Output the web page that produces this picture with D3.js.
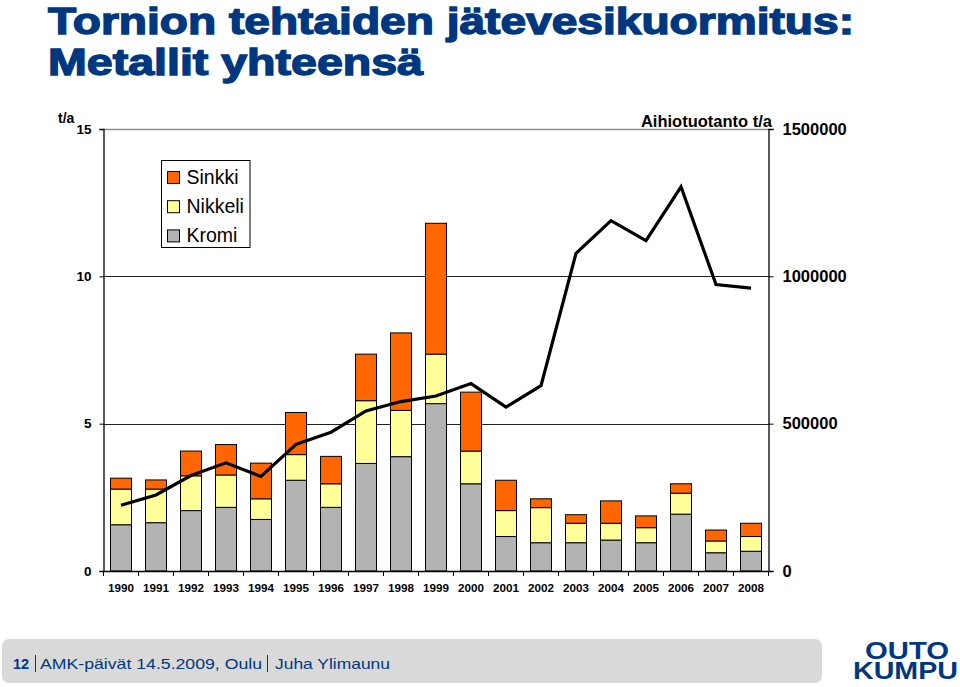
<!DOCTYPE html>
<html>
<head>
<meta charset="utf-8">
<script src="https://cdn.jsdelivr.net/npm/d3@7"></script>
<style>
  html, body { margin: 0; padding: 0; background: #fff; }
  svg { display: block; font-family: "Liberation Sans", Arial, sans-serif; }
</style>
</head>
<body>
<svg id="chart" width="960" height="687"></svg>
<script>
const years = ["1990","1991","1992","1993","1994","1995","1996","1997","1998","1999","2000","2001","2002","2003","2004","2005","2006","2007","2008"];
const kromi   = [1.57,1.64,2.05,2.16,1.75,3.08,2.16,3.65,3.88,5.68,2.96,1.17,0.96,0.96,1.05,0.96,1.93,0.62,0.67];
const nikkeli = [1.21,1.14,1.18,1.10,0.70,0.87,0.80,2.13,1.57,1.68,1.11,0.88,1.19,0.66,0.57,0.51,0.71,0.40,0.50];
const sinkki  = [0.37,0.31,0.84,1.03,1.21,1.43,0.93,1.58,2.63,4.44,2.00,1.03,0.30,0.29,0.76,0.40,0.32,0.37,0.45];
const aihio   = [223000,258000,324000,367000,321000,430000,471000,543000,575000,594000,636000,556000,629000,1078000,1189000,1121000,1304000,972000,960000];
const leftTicks = [0,5,10,15];
const rightTicks = [0,500000,1000000,1500000];
const seriesNames = ["Kromi","Nikkeli","Sinkki"];
const seriesColors = {"Kromi":"#b3b3b3","Nikkeli":"#ffff99","Sinkki":"#ff6600"};

const svg = d3.select("#chart");
const navy = "#00387f";

// Title
const title = svg.append("g").attr("fill", navy).attr("stroke", navy).attr("stroke-width", 1.4)
  .style("font-weight", "bold").style("font-size", "37px");
title.append("text").attr("x", 48).attr("y", 34).attr("textLength", 806).attr("lengthAdjust", "spacingAndGlyphs")
  .text("Tornion tehtaiden jätevesikuormitus:");
title.append("text").attr("x", 48).attr("y", 75).attr("textLength", 375).attr("lengthAdjust", "spacingAndGlyphs")
  .text("Metallit yhteensä");

// Plot geometry
const x0 = 103.5, x1 = 768.5, yTop = 129, yBot = 571;
const x = d3.scaleBand().domain(years).range([x0, x1]).paddingInner(0.4).paddingOuter(0.2);
const y = d3.scaleLinear().domain([0, 15]).range([yBot, yTop]);
const y2 = d3.scaleLinear().domain([0, 1500000]).range([yBot, yTop]);

// Gridlines
svg.append("g").selectAll("line").data([5, 10]).join("line")
  .attr("x1", x0).attr("x2", x1).attr("y1", d => Math.round(y(d)) + 0.5).attr("y2", d => Math.round(y(d)) + 0.5)
  .attr("stroke", "#222").attr("stroke-width", 1);
svg.append("line").attr("x1", x0).attr("x2", x1).attr("y1", y(15) + 0.5).attr("y2", y(15) + 0.5)
  .attr("stroke", "#8c8c8c").attr("stroke-width", 1.3);

// Stacked bars
const table = years.map((yr, i) => ({year: yr, Kromi: kromi[i], Nikkeli: nikkeli[i], Sinkki: sinkki[i]}));
const stack = d3.stack().keys(seriesNames)(table);
svg.append("g").selectAll("g").data(stack).join("g")
  .attr("fill", d => seriesColors[d.key])
  .selectAll("rect").data(d => d).join("rect")
  .attr("x", d => x(d.data.year))
  .attr("width", x.bandwidth())
  .attr("y", d => y(d[1]))
  .attr("height", d => y(d[0]) - y(d[1]))
  .attr("stroke", "#000").attr("stroke-width", 1);

// Line
const line = d3.line().x((d, i) => x(years[i]) + x.bandwidth() / 2).y(d => y2(d));
svg.append("path").datum(aihio).attr("d", line).attr("fill", "none")
  .attr("stroke", "#000").attr("stroke-width", 3.2).attr("stroke-linejoin", "miter");

// Left axis
const leftAxis = d3.axisLeft(y).tickValues(leftTicks).tickSize(4).tickPadding(8).tickFormat(d3.format("d"));
const gl = svg.append("g").attr("transform", `translate(${x0},0)`).call(leftAxis);
gl.select(".domain").attr("stroke", "#000").attr("stroke-width", 1.3);
gl.selectAll(".tick line").attr("stroke", "#000");
gl.selectAll(".tick text").style("font-family", "Liberation Sans, Arial, sans-serif")
  .style("font-size", "13.5px").style("font-weight", "bold").attr("fill", "#000");

// Right axis
const rightAxis = d3.axisRight(y2).tickValues(rightTicks).tickSize(5).tickPadding(9).tickFormat(d3.format("d"));
const gr = svg.append("g").attr("transform", `translate(${x1},0)`).call(rightAxis);
gr.select(".domain").attr("stroke", "#000").attr("stroke-width", 1.3);
gr.selectAll(".tick line").attr("stroke", "#000");
gr.selectAll(".tick text").style("font-family", "Liberation Sans, Arial, sans-serif")
  .style("font-size", "16.5px").style("font-weight", "bold").attr("fill", "#000");

// Bottom axis
const gb = svg.append("g").attr("transform", `translate(0,${yBot})`)
  .call(d3.axisBottom(x).tickSize(0).tickPadding(13));
gb.select(".domain").attr("d", `M${x0},0.5H${x1}`).attr("stroke", "#000").attr("stroke-width", 1.3);
gb.selectAll(".tick text").style("font-family", "Liberation Sans, Arial, sans-serif")
  .style("font-size", "11.7px").style("font-weight", "bold").attr("fill", "#000");
// category separator ticks
const sepPositions = years.slice(1).map(yr => x(yr) - x.step() * x.paddingInner() / 2);
svg.append("g").selectAll("line").data(sepPositions.concat([x0, x1])).join("line")
  .attr("x1", d => d).attr("x2", d => d).attr("y1", yBot).attr("y2", yBot + 5)
  .attr("stroke", "#000").attr("stroke-width", 1);

// Axis titles
svg.append("text").attr("x", 58).attr("y", 123).style("font-size", "14px").style("font-weight", "bold").text("t/a");
svg.append("text").attr("x", 772).attr("y", 127).attr("text-anchor", "end")
  .style("font-size", "16.5px").style("font-weight", "bold").text("Aihiotuotanto t/a");

// Legend
const lg = svg.append("g");
lg.append("rect").attr("x", 161.5).attr("y", 160.5).attr("width", 88.5).attr("height", 87)
  .attr("fill", "#fff").attr("stroke", "#000").attr("stroke-width", 1);
const legendItems = ["Sinkki","Nikkeli","Kromi"];
legendItems.forEach((name, i) => {
  const by = 183.5 + i * 29.2;
  lg.append("rect").attr("x", 167.5).attr("y", by - 12).attr("width", 12).attr("height", 12)
    .attr("fill", seriesColors[name]).attr("stroke", "#000").attr("stroke-width", 1);
  lg.append("text").attr("x", 186.5).attr("y", by).style("font-size", "19.5px").attr("fill", "#000").text(name);
});

// Footer bar
svg.append("rect").attr("x", 2).attr("y", 639).attr("width", 820).attr("height", 44).attr("rx", 7)
  .attr("fill", "#d9d9d9");
const ft = svg.append("g").attr("fill", navy).style("font-size", "14.5px");
ft.append("text").attr("x", 13).attr("y", 668.5).style("font-weight", "bold").text("12");
ft.append("line").attr("x1", 35.5).attr("x2", 35.5).attr("y1", 655).attr("y2", 672).attr("stroke", navy).attr("stroke-width", 1);
ft.append("text").attr("x", 40).attr("y", 668.5).attr("textLength", 222).attr("lengthAdjust", "spacingAndGlyphs").text("AMK-päivät 14.5.2009, Oulu");
ft.append("line").attr("x1", 267.5).attr("x2", 267.5).attr("y1", 655).attr("y2", 672).attr("stroke", navy).attr("stroke-width", 1);
ft.append("text").attr("x", 275).attr("y", 668.5).attr("textLength", 115).attr("lengthAdjust", "spacingAndGlyphs").text("Juha Ylimaunu");

// Logo (single text element, two lines)
const logo = svg.append("text").attr("fill", navy).style("font-weight", "bold").style("font-size", "24px");
logo.append("tspan").attr("x", 865).attr("y", 659).attr("textLength", 84).attr("lengthAdjust", "spacingAndGlyphs").text("OUTO");
logo.append("tspan").attr("x", 853).attr("y", 679).attr("textLength", 105).attr("lengthAdjust", "spacingAndGlyphs").text("KUMPU");
</script>
</body>
</html>
